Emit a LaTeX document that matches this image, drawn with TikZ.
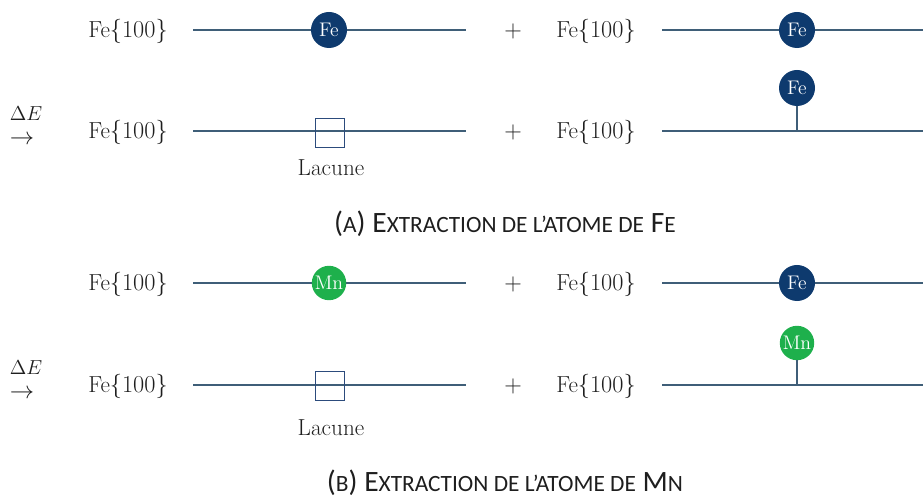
\documentclass[tikz,border=0pt]{standalone}
\usepackage{fontspec}
\usepackage{xcolor}
\usepackage{tikz}
\newfontfamily\capfont{Carlito}
\definecolor{feBlue}{HTML}{0E3A6E}
\definecolor{mnGreen}{HTML}{1EB04C}
\definecolor{surfLine}{HTML}{3F5E78}
\definecolor{vacInk}{HTML}{2C4B7C}
\definecolor{txtInk}{HTML}{1E1E1E}
\newcommand{\smc}[1]{{\fontsize{16.6}{18}\selectfont #1}}

\begin{document}
\begin{tikzpicture}[x=0.025cm, y=-0.025cm,
    surf/.style={surfLine, line width=1.4pt},
    stem/.style={surfLine, line width=1.2pt},
    lbl/.style={txtInk, font=\fontsize{16.5}{18}\selectfont},
    dlbl/.style={txtInk, font=\fontsize{14}{17}\selectfont, inner sep=0pt, align=left},
    captext/.style={txtInk, font=\capfont\fontsize{21}{22}\selectfont},
    fe/.style={circle, fill=feBlue, text=white, minimum size=0.9cm, inner sep=0pt,
      font=\fontsize{14}{14}\selectfont},
    mn/.style={fe, fill=mnGreen, minimum size=0.86cm},
    vac/.style={draw=vacInk, line width=1.1pt, minimum size=0.72cm, inner sep=0pt}]
  \useasboundingbox (0,0) rectangle (923,498);

  % (a) Fe
  \node[lbl] (a1) at (128,31) {Fe$\{100\}$};
  \coordinate (a1l) at (193,30);
  \coordinate (a1r) at (466,30);
  \draw[surf] (a1l) -- (a1r);
  \node[fe] (a1at) at (329,30) {Fe};
  \node[lbl] (a1p) at (513,31) {$+$};
  \node[lbl] (a1b) at (596,31) {Fe$\{100\}$};
  \coordinate (a1m) at (662,30);
  \coordinate (a1n) at (923,30);
  \draw[surf] (a1m) -- (a1n);
  \node[fe] (a1at2) at (797,30) {Fe};

  \node[dlbl] (a2d) at (26,126) {$\Delta E$\\{\fontsize{16}{16}\selectfont$\rightarrow$}};
  \node[lbl] (a2) at (128,132) {Fe$\{100\}$};
  \coordinate (a2l) at (193,131);
  \coordinate (a2r) at (466,131);
  \draw[surf] (a2l) -- (a2r);
  \node[vac] (a2v) at (330,133) {};
  \node[lbl] (a2lac) at (331,168) {Lacune};
  \node[lbl] (a2p) at (513,132) {$+$};
  \node[lbl] (a2b) at (596,132) {Fe$\{100\}$};
  \coordinate (a2m) at (662,131);
  \coordinate (a2n) at (923,131);
  \draw[surf] (a2m) -- (a2n);
  \node[fe] (a2at) at (797,88) {Fe};
  \coordinate (a2s) at (797,131);
  \draw[stem] (a2at.south) -- (a2s);

  \node[captext] (capA) at (505,224) {(\smc{A}) E\smc{XTRACTION DE L’ATOME DE} F\smc{E}};

  % (b) Mn
  \node[lbl] (b1) at (128,284) {Fe$\{100\}$};
  \coordinate (b1l) at (193,283);
  \coordinate (b1r) at (466,283);
  \draw[surf] (b1l) -- (b1r);
  \node[mn] (b1at) at (329,283) {Mn};
  \node[lbl] (b1p) at (513,284) {$+$};
  \node[lbl] (b1b) at (596,284) {Fe$\{100\}$};
  \coordinate (b1m) at (662,283);
  \coordinate (b1n) at (923,283);
  \draw[surf] (b1m) -- (b1n);
  \node[fe] (b1at2) at (797,283) {Fe};

  \node[dlbl] (b2d) at (26,380) {$\Delta E$\\{\fontsize{16}{16}\selectfont$\rightarrow$}};
  \node[lbl] (b2) at (128,386) {Fe$\{100\}$};
  \coordinate (b2l) at (193,385);
  \coordinate (b2r) at (466,385);
  \draw[surf] (b2l) -- (b2r);
  \node[vac] (b2v) at (330,386) {};
  \node[lbl] (b2lac) at (331,428) {Lacune};
  \node[lbl] (b2p) at (513,386) {$+$};
  \node[lbl] (b2b) at (596,386) {Fe$\{100\}$};
  \coordinate (b2m) at (662,385);
  \coordinate (b2n) at (923,385);
  \draw[surf] (b2m) -- (b2n);
  \node[mn] (b2at) at (797,343) {Mn};
  \coordinate (b2s) at (797,385);
  \draw[stem] (b2at.south) -- (b2s);

  \node[captext] (capB) at (505,483) {(\smc{B}) E\smc{XTRACTION DE L’ATOME DE} M\smc{N}};
\end{tikzpicture}
\end{document}
